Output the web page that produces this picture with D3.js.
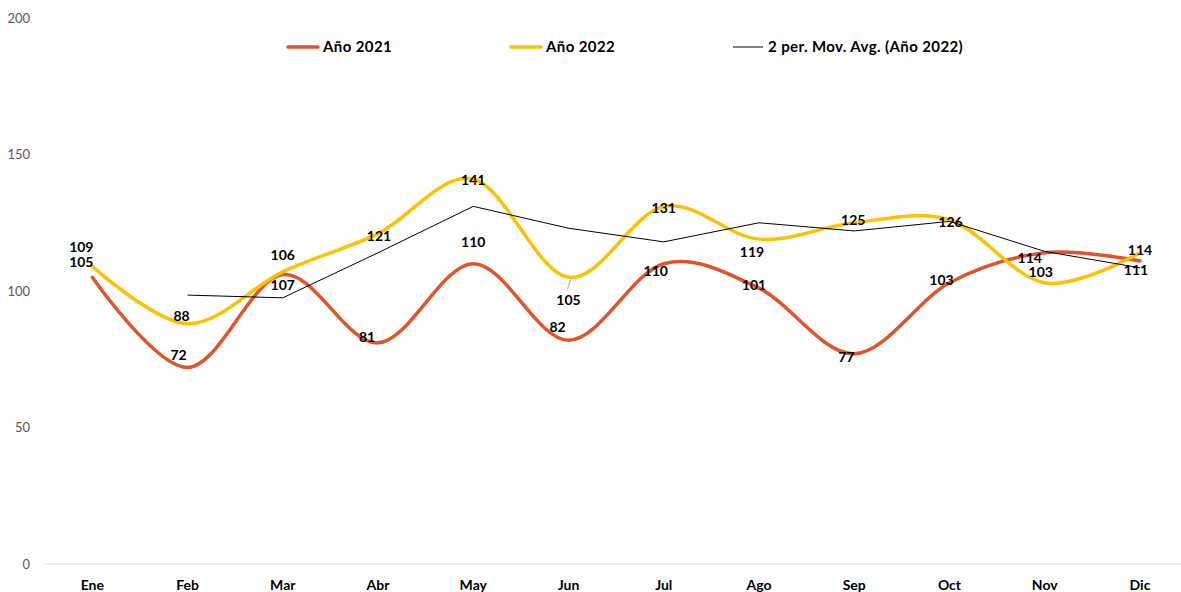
<!DOCTYPE html>
<html><head><meta charset="utf-8">
<script src="https://cdn.jsdelivr.net/npm/d3@7"></script>
<style>body{margin:0;background:#fff}svg{display:block}</style>
</head><body>
<script>
const months = ["Ene","Feb","Mar","Abr","May","Jun","Jul","Ago","Sep","Oct","Nov","Dic"];
const y2021 = [105,72,106,81,110,82,110,101,77,103,114,111];
const y2022 = [109,88,107,121,141,105,131,119,125,126,103,114];
const yTicks = [0,50,100,150,200];
const seriesNames = ["Año 2021","Año 2022","2 per. Mov. Avg. (Año 2022)"];
// label offsets (placement only)
const off2021 = [[-11,-15],[-9,-12],[0,-20],[-11,-6],[0,-22],[-11,-13],[-8,7],[-5,-3],[-8,3],[-8,-3],[-15,5],[-4,9]];
const off2022 = [[-11,-19],[-6,-8],[0,13],[1,2],[0,1],[0,23],[0,2],[-7,13],[-1,-3],[1,2],[-4,-11],[0,-3]];

const W=1181,H=592;
const svg=d3.select("body").append("svg").attr("width",W).attr("height",H);
const x=d3.scaleBand().domain(months).range([44.7,1187.6]);
const y=d3.scaleLinear().domain([0,200]).range([564,18]);
const cx=m=>x(m)+x.bandwidth()/2;
const font="Lato, 'Open Sans', sans-serif";

// baseline
svg.append("line").attr("x1",44.7).attr("x2",W).attr("y1",y(0)).attr("y2",y(0)).attr("stroke","#d9d9d9").attr("stroke-width",1);
// y tick labels
svg.selectAll(".yt").data(yTicks).enter().append("text")
 .attr("x",30).attr("y",d=>y(d)).attr("dy","0.35em").attr("text-anchor","end")
 .attr("font-family",font).attr("font-size",13).attr("fill","#595959").text(d=>d);
// x labels
svg.selectAll(".xt").data(months).enter().append("text")
 .attr("x",d=>cx(d)).attr("y",585).attr("dy","0.35em").attr("text-anchor","middle")
 .attr("font-family",font).attr("font-weight","bold").attr("font-size",14).attr("fill","#000").text(d=>d);

const line=d3.line().x(d=>cx(d.m)).y(d=>y(d.v)).curve(d3.curveCatmullRom.alpha(0));
const d21=months.map((m,i)=>({m,v:y2021[i]}));
const d22=months.map((m,i)=>({m,v:y2022[i]}));
const ma=months.slice(1).map((m,i)=>({m,v:(y2022[i]+y2022[i+1])/2}));
const red="#E1542A", yel="#FFC000";
svg.append("path").attr("d",line(d21)).attr("fill","none").attr("stroke",red).attr("stroke-width",3.5).attr("stroke-linecap","round");
svg.append("path").attr("d",line(d22)).attr("fill","none").attr("stroke",yel).attr("stroke-width",3.5).attr("stroke-linecap","round");
svg.append("path").attr("d",d3.line().x(d=>cx(d.m)).y(d=>y(d.v))(ma)).attr("fill","none").attr("stroke","#000").attr("stroke-width",1);

// leader line for Jun 2022
svg.append("line").attr("x1",cx("Jun")+2).attr("y1",y(y2022[5])+2).attr("x2",cx("Jun")-1).attr("y2",y(y2022[5])+12).attr("stroke","#a6a6a6").attr("stroke-width",1);

function labels(data,offs){
 svg.append("g").selectAll("text").data(data).enter().append("text")
  .attr("x",(d,i)=>cx(d.m)+offs[i][0]).attr("y",(d,i)=>y(d.v)+offs[i][1]).attr("dy","0.35em")
  .attr("text-anchor","middle").attr("font-family",font).attr("font-weight","bold").attr("font-size",14).attr("fill","#000").text(d=>d.v);
}
labels(d21,off2021);
labels(d22,off2022);

// legend
const leg=[{n:seriesNames[0],c:red,w:3.5,x:288},{n:seriesNames[1],c:yel,w:3.5,x:511},{n:seriesNames[2],c:"#000",w:1,x:733}];
const lg=svg.append("g").selectAll("g").data(leg).enter().append("g");
lg.append("line").attr("x1",d=>d.x).attr("x2",d=>d.x+30).attr("y1",47).attr("y2",47).attr("stroke",d=>d.c).attr("stroke-width",d=>d.w).attr("stroke-linecap",d=>d.w>1?"round":"butt");
lg.append("text").attr("x",d=>d.x+35).attr("y",47).attr("dy","0.35em").attr("font-family",font).attr("font-weight","bold").attr("font-size",15).attr("letter-spacing","0.4px").attr("fill","#000").text(d=>d.n);
</script>
</body></html>
